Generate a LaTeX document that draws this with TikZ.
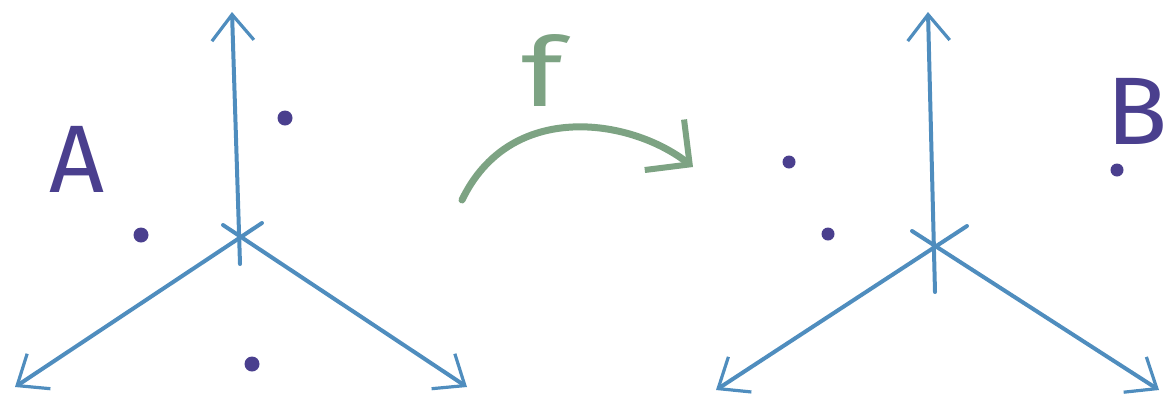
\documentclass[tikz,border=0pt]{standalone}
\usepackage{fontspec}
\setmainfont{Fira Sans}
\usepackage{tikz}
\usetikzlibrary{arrows.meta, positioning}

\definecolor{axisblue}{HTML}{4F8DBE}
\definecolor{dotpurple}{HTML}{4A3F8E}
\definecolor{mapgreen}{HTML}{7DA383}

\tikzset{
axis/.style={draw=axisblue, line width=4pt, line cap=round, -{Straight Barb[length=26pt,width=42pt,line width=3.2pt]}},
pt/.style={circle, fill=dotpurple, inner sep=0pt, minimum size=15pt},
letter/.style={text=dotpurple, font=\fontsize{96}{96}\selectfont, inner sep=0pt},
}

\begin{document}
\begin{tikzpicture}[x=1pt, y=-1pt]
\useasboundingbox (0,0) rectangle (1170,400);
% left frame
\coordinate (Ao) at (240,264);
\coordinate (Al) at (262,223);
\coordinate (Ar) at (223,225);
\coordinate (Aup) at (232,12);
\coordinate (Adl) at (15,387);
\coordinate (Adr) at (467,387);
\draw[axis] (Ao) -- (Aup);
\draw[axis] (Al) -- (Adl);
\draw[axis] (Ar) -- (Adr);
\node[pt] (a1) at (285,118) {};
\node[pt] (a2) at (141,235) {};
\node[pt] (a3) at (252,364) {};
\node[letter] (A) at (77,159) {A};
% right frame
\coordinate (Bo) at (935,292);
\coordinate (Bl) at (967,226);
\coordinate (Br) at (912,231);
\coordinate (Bup) at (928,12);
\coordinate (Bdl) at (716,390);
\coordinate (Bdr) at (1159,390);
\draw[axis] (Bo) -- (Bup);
\draw[axis] (Bl) -- (Bdl);
\draw[axis] (Br) -- (Bdr);
\node[pt, minimum size=13pt] (b1) at (789,162) {};
\node[pt, minimum size=13pt] (b2) at (828,234) {};
\node[pt, minimum size=13pt] (b3) at (1117,170) {};
\node[letter, anchor=east, xscale=1.05] (B) at (1168,111) {B};
% map
\coordinate (fs) at (462,200);
\coordinate (fe) at (693,167);
\draw[mapgreen, line width=7pt, line cap=round, -{Straight Barb[length=32pt,width=64pt,line width=6pt]}]
(fs) .. controls (510,100) and (630,118) .. (fe);
\node[letter, text=mapgreen, xscale=1.3] (f) at (542,70) {f};
\end{tikzpicture}
\end{document}
